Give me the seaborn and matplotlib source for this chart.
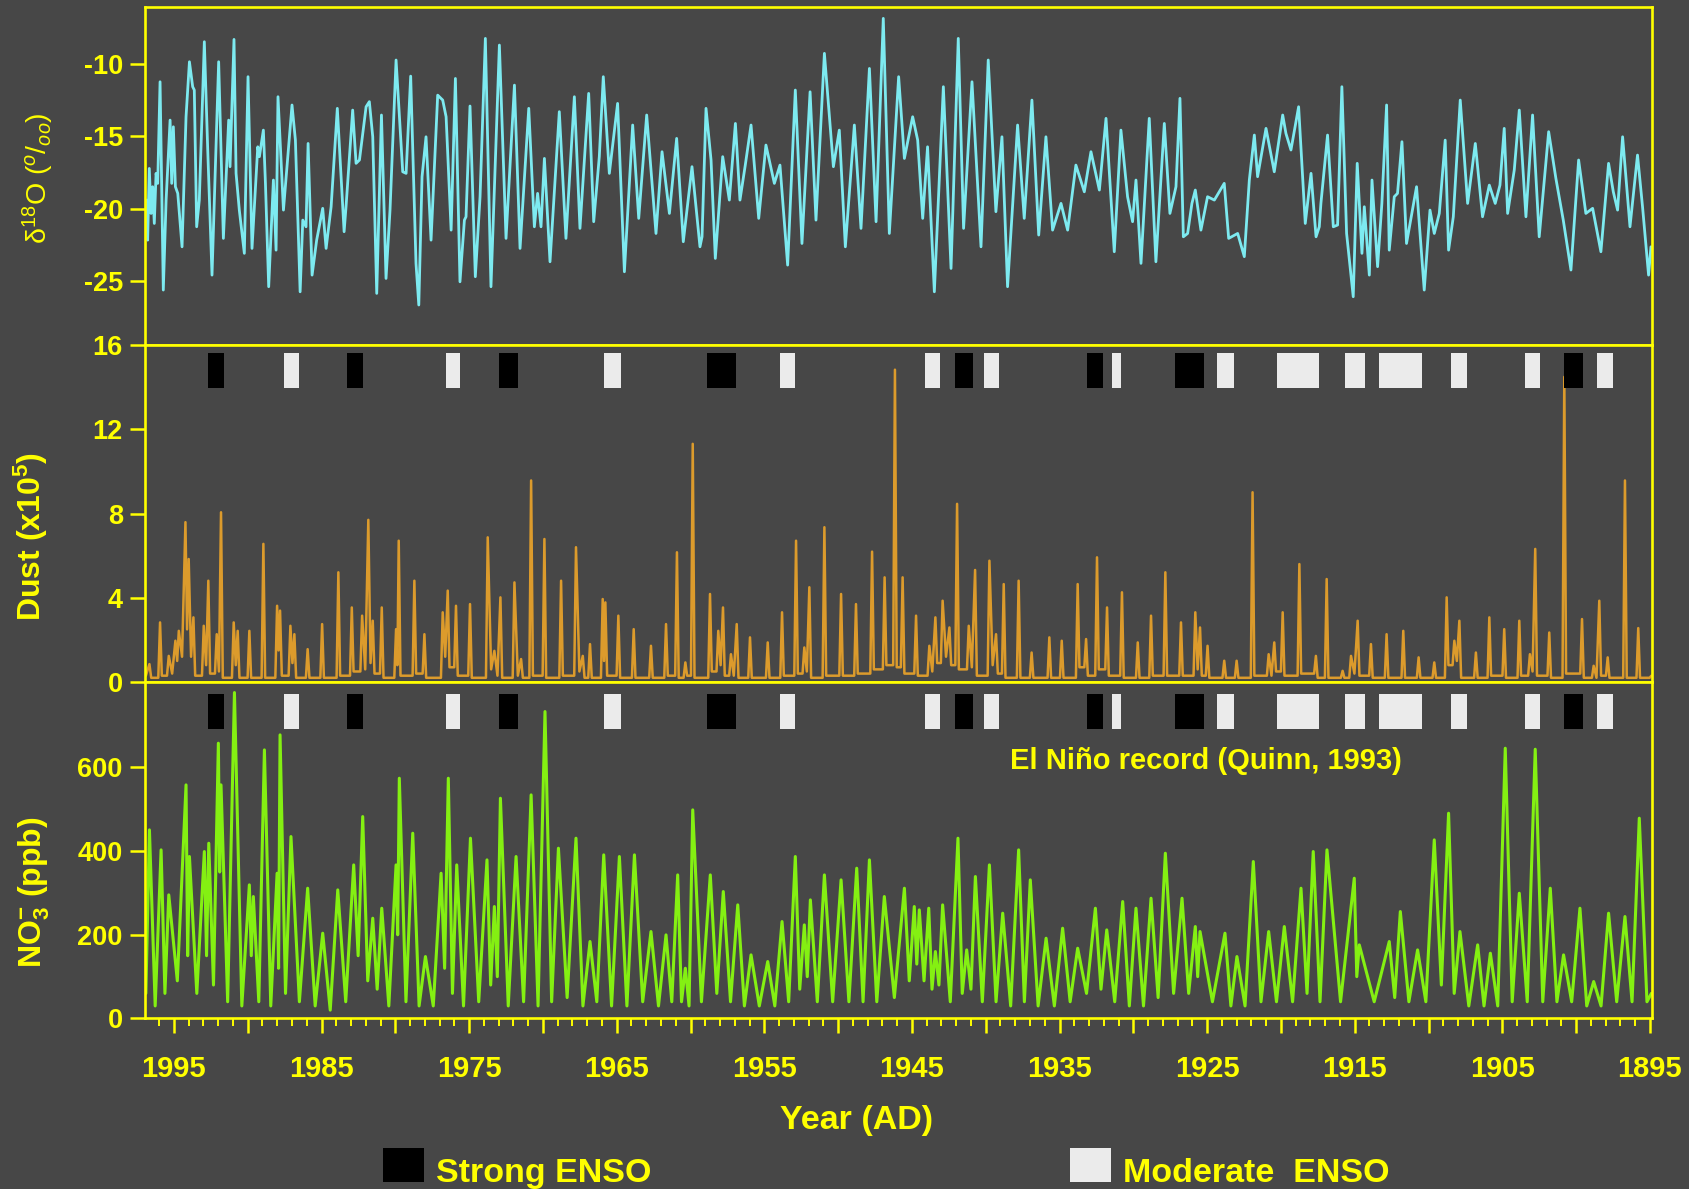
import matplotlib
matplotlib.use("Agg")
import numpy as np
import pandas as pd
import matplotlib.pyplot as plt
import seaborn as sns
from matplotlib.patches import Rectangle

# ---------------------------------------------------------------- data
# delta-18O record (year AD, per mil)
d18o_points = [
    (1996.85, -19.4), (1996.78, -22.16), (1996.67, -17.22), (1996.55, -20.32), (1996.44, -18.48),
    (1996.33, -21.01), (1996.21, -17.56), (1996.10, -18.25), (1995.94, -11.25), (1995.72, -25.60),
    (1995.53, -19.40), (1995.26, -13.89), (1995.15, -18.25), (1995.04, -14.35), (1994.90, -18.48),
    (1994.74, -18.94), (1994.45, -22.62), (1994.18, -13.66), (1993.95, -9.87), (1993.73, -11.59),
    (1993.62, -11.82), (1993.46, -21.24), (1993.28, -19.40), (1992.94, -8.49), (1992.71, -15.95),
    (1992.42, -24.57), (1991.97, -9.87), (1991.65, -22.04), (1991.29, -13.89), (1991.20, -17.10),
    (1990.93, -8.33), (1990.79, -17.56), (1990.57, -20.09), (1990.23, -23.07), (1989.98, -10.90),
    (1989.71, -22.73), (1989.32, -15.73), (1989.21, -16.41), (1988.94, -14.58), (1988.80, -18.25),
    (1988.58, -25.37), (1988.26, -18.02), (1988.08, -22.85), (1987.95, -12.28), (1987.58, -20.09),
    (1987.00, -12.85), (1986.77, -15.27), (1986.45, -25.72), (1986.27, -20.78), (1986.05, -21.24),
    (1985.91, -15.50), (1985.64, -24.57), (1985.33, -22.16), (1984.92, -19.97), (1984.69, -22.73),
    (1984.35, -19.86), (1983.93, -13.08), (1983.47, -21.58), (1983.34, -19.86), (1982.89, -13.20),
    (1982.66, -16.87), (1982.43, -16.64), (1981.98, -12.97), (1981.76, -12.62), (1981.53, -15.04),
    (1981.26, -25.83), (1980.94, -13.54), (1980.63, -24.80), (1980.36, -20.09), (1979.95, -9.75),
    (1979.50, -17.45), (1979.27, -17.56), (1978.96, -10.86), (1978.60, -23.76), (1978.41, -26.63),
    (1978.19, -17.79), (1977.92, -15.04), (1977.58, -22.16), (1977.13, -12.17), (1976.79, -12.51),
    (1976.56, -13.66), (1976.22, -21.47), (1975.93, -11.02), (1975.62, -25.03), (1975.32, -20.78),
    (1975.21, -20.55), (1974.94, -12.92), (1974.58, -24.68), (1974.26, -19.17), (1973.90, -8.26),
    (1973.52, -25.37), (1972.95, -8.72), (1972.50, -22.04), (1971.93, -11.48), (1971.55, -22.73),
    (1970.96, -13.08), (1970.58, -21.24), (1970.36, -18.94), (1970.13, -21.24), (1969.90, -16.53),
    (1969.52, -23.65), (1968.89, -13.31), (1968.44, -22.04), (1967.87, -12.28), (1967.49, -21.35),
    (1966.90, -12.05), (1966.56, -20.89), (1966.18, -16.41), (1965.91, -10.90), (1965.50, -17.56),
    (1964.94, -12.74), (1964.48, -24.34), (1963.92, -14.23), (1963.51, -20.66), (1962.97, -13.54),
    (1962.34, -21.70), (1961.93, -16.07), (1961.43, -20.32), (1960.94, -15.15), (1960.49, -22.27),
    (1959.90, -17.10), (1959.36, -22.62), (1959.22, -21.93), (1958.95, -13.08), (1958.61, -16.64),
    (1958.32, -23.42), (1957.82, -16.41), (1957.37, -19.40), (1956.96, -14.12), (1956.65, -19.40),
    (1956.29, -16.99), (1955.90, -14.23), (1955.38, -20.66), (1954.89, -15.61), (1954.32, -18.25),
    (1953.94, -16.99), (1953.42, -23.88), (1952.90, -11.82), (1952.45, -22.39), (1951.90, -11.94),
    (1951.50, -20.78), (1950.93, -9.29), (1950.32, -17.10), (1949.92, -14.58), (1949.51, -22.62),
    (1948.90, -14.23), (1948.45, -21.35), (1947.88, -10.33), (1947.43, -20.89), (1946.94, -6.88),
    (1946.53, -21.70), (1945.90, -10.90), (1945.51, -16.53), (1944.95, -13.66), (1944.61, -15.27),
    (1944.27, -20.66), (1943.94, -15.73), (1943.48, -25.72), (1942.87, -11.59), (1942.35, -24.11),
    (1941.86, -8.26), (1941.50, -21.35), (1940.93, -11.25), (1940.32, -22.62), (1939.83, -9.75),
    (1939.31, -20.20), (1938.90, -15.04), (1938.52, -25.37), (1937.84, -14.23), (1937.39, -20.66),
    (1936.87, -12.51), (1936.41, -21.81), (1935.92, -15.04), (1935.47, -21.47), (1934.90, -19.63),
    (1934.45, -21.47), (1933.89, -16.99), (1933.32, -18.83), (1932.87, -16.07), (1932.30, -18.71),
    (1931.85, -13.77), (1931.29, -22.96), (1930.84, -14.58), (1930.39, -19.17), (1930.05, -20.89),
    (1929.82, -18.02), (1929.48, -23.76), (1928.92, -13.77), (1928.47, -23.65), (1927.90, -14.12),
    (1927.52, -20.32), (1927.11, -18.48), (1926.84, -12.39), (1926.61, -21.93), (1926.32, -21.70),
    (1926.03, -19.63), (1925.80, -18.71), (1925.42, -21.47), (1924.97, -19.17), (1924.51, -19.40),
    (1923.84, -18.25), (1923.54, -22.04), (1922.93, -21.70), (1922.48, -23.30), (1922.14, -18.02),
    (1921.80, -14.92), (1921.58, -17.79), (1921.01, -14.46), (1920.45, -17.45), (1919.88, -13.54),
    (1919.66, -14.81), (1919.32, -15.95), (1918.80, -12.97), (1918.35, -21.01), (1917.96, -17.56),
    (1917.62, -21.93), (1917.40, -21.24), (1917.29, -19.63), (1916.84, -14.92), (1916.45, -21.24),
    (1916.16, -21.12), (1915.87, -11.59), (1915.55, -21.70), (1915.10, -26.06), (1914.83, -16.87),
    (1914.51, -23.07), (1914.35, -19.86), (1914.01, -24.57), (1913.83, -18.02), (1913.45, -23.99),
    (1913.16, -19.63), (1912.84, -12.85), (1912.66, -22.85), (1912.32, -19.17), (1912.10, -18.94),
    (1911.80, -15.38), (1911.49, -22.39), (1910.81, -18.48), (1910.29, -25.60), (1909.90, -20.09),
    (1909.61, -21.70), (1909.27, -20.32), (1908.87, -15.27), (1908.64, -22.85), (1908.32, -20.55),
    (1907.85, -12.51), (1907.35, -19.63), (1906.83, -15.50), (1906.34, -20.55), (1905.88, -18.37),
    (1905.48, -19.63), (1905.16, -18.37), (1904.87, -14.46), (1904.64, -20.32), (1904.19, -17.33),
    (1903.85, -13.20), (1903.40, -20.55), (1902.95, -13.54), (1902.50, -21.93), (1901.86, -14.69),
    (1901.37, -17.91), (1900.87, -20.78), (1900.35, -24.22), (1899.83, -16.64), (1899.34, -20.32),
    (1898.88, -19.97), (1898.32, -22.96), (1897.80, -16.87), (1897.48, -18.83), (1897.19, -20.09),
    (1896.85, -15.04), (1896.35, -21.24), (1895.84, -16.30), (1895.50, -19.86), (1895.09, -24.57),
    (1894.93, -22.62),
]

# dust concentration (x10^5): peaks alternating with the floor level between them
dust_points = [
    (1996.90, 0.3), (1996.66, 0.85), (1996.30, 0.2), (1995.94, 2.83), (1995.65, 0.3), (1995.35, 1.24),
    (1995.12, 0.4), (1994.90, 1.96), (1994.78, 1.0), (1994.67, 2.43), (1994.45, 1.2), (1994.22, 7.59),
    (1994.11, 2.5), (1994.00, 5.84), (1993.84, 1.2), (1993.68, 3.07), (1993.33, 0.3), (1992.98, 2.67),
    (1992.82, 0.8), (1992.67, 4.81), (1992.38, 0.4), (1992.10, 2.27), (1991.95, 0.5), (1991.81, 8.06),
    (1991.38, 0.2), (1990.95, 2.83), (1990.81, 0.8), (1990.68, 2.43), (1990.28, 0.2), (1989.89, 2.43),
    (1989.41, 0.2), (1988.94, 6.56), (1988.47, 0.2), (1988.01, 3.62), (1987.91, 1.5), (1987.81, 3.39),
    (1987.46, 0.3), (1987.11, 2.67), (1986.97, 0.9), (1986.84, 2.27), (1986.39, 0.2), (1985.94, 1.56),
    (1985.45, 0.2), (1984.96, 2.75), (1984.41, 0.2), (1983.86, 5.21), (1983.40, 0.3), (1982.95, 3.54),
    (1982.60, 0.5), (1982.25, 3.15), (1982.04, 0.6), (1981.83, 7.70), (1981.68, 0.9), (1981.53, 2.91),
    (1981.22, 0.4), (1980.92, 3.54), (1980.43, 0.2), (1979.95, 2.51), (1979.86, 0.8), (1979.77, 6.71),
    (1979.24, 0.3), (1978.71, 4.81), (1978.37, 0.4), (1978.03, 2.27), (1977.41, 0.2), (1976.79, 3.31),
    (1976.62, 1.2), (1976.45, 4.34), (1976.17, 0.7), (1975.89, 3.62), (1975.41, 0.3), (1974.94, 3.70),
    (1974.34, 0.2), (1973.74, 6.87), (1973.51, 0.6), (1973.29, 1.48), (1973.08, 0.3), (1972.88, 4.02),
    (1972.40, 0.2), (1971.93, 4.73), (1971.70, 0.3), (1971.48, 1.09), (1971.14, 0.2), (1970.80, 9.57),
    (1970.35, 0.3), (1969.90, 6.79), (1969.33, 0.2), (1968.77, 4.81), (1968.26, 0.3), (1967.76, 6.40),
    (1967.53, 0.5), (1967.30, 1.24), (1967.05, 0.2), (1966.81, 1.80), (1966.38, 0.2), (1965.95, 3.94),
    (1965.86, 1.0), (1965.77, 3.78), (1965.33, 0.3), (1964.89, 3.15), (1964.37, 0.2), (1963.85, 2.51),
    (1963.26, 0.2), (1962.68, 1.72), (1962.17, 0.2), (1961.66, 2.75), (1961.29, 0.3), (1960.92, 6.16),
    (1960.64, 0.2), (1960.35, 0.93), (1960.10, 0.3), (1959.85, 11.31), (1959.27, 0.2), (1958.68, 4.18),
    (1958.40, 0.5), (1958.12, 2.43), (1957.96, 0.8), (1957.80, 3.54), (1957.53, 0.3), (1957.26, 1.32),
    (1957.07, 0.3), (1956.87, 2.75), (1956.42, 0.2), (1955.97, 2.12), (1955.37, 0.2), (1954.77, 1.88),
    (1954.29, 0.2), (1953.80, 3.31), (1953.33, 0.3), (1952.85, 6.71), (1952.57, 0.4), (1952.29, 1.64),
    (1952.12, 0.5), (1951.95, 4.50), (1951.44, 0.2), (1950.93, 7.35), (1950.37, 0.3), (1949.80, 4.18),
    (1949.30, 0.3), (1948.79, 3.70), (1948.25, 0.4), (1947.70, 6.19), (1947.28, 0.6), (1946.85, 4.97),
    (1946.50, 0.8), (1946.15, 14.83), (1945.89, 0.7), (1945.63, 4.97), (1945.18, 0.4), (1944.72, 3.15),
    (1944.27, 0.3), (1943.82, 1.72), (1943.62, 0.5), (1943.41, 3.07), (1943.17, 0.9), (1942.92, 3.86),
    (1942.69, 1.2), (1942.46, 2.59), (1942.20, 0.8), (1941.94, 8.46), (1941.55, 0.6), (1941.15, 2.67),
    (1940.94, 0.7), (1940.72, 5.32), (1940.24, 0.3), (1939.75, 5.76), (1939.53, 0.8), (1939.30, 2.27),
    (1939.04, 0.4), (1938.78, 4.65), (1938.28, 0.2), (1937.77, 4.81), (1937.33, 0.2), (1936.89, 1.40),
    (1936.29, 0.2), (1935.69, 2.12), (1935.27, 0.2), (1934.85, 1.96), (1934.31, 0.2), (1933.77, 4.65),
    (1933.49, 0.7), (1933.20, 2.04), (1932.83, 0.3), (1932.46, 5.92), (1932.12, 0.6), (1931.78, 3.54),
    (1931.28, 0.3), (1930.77, 4.26), (1930.24, 0.2), (1929.70, 1.88), (1929.25, 0.2), (1928.80, 3.15),
    (1928.32, 0.3), (1927.83, 5.21), (1927.30, 0.3), (1926.77, 2.83), (1926.28, 0.3), (1925.80, 3.31),
    (1925.64, 0.6), (1925.48, 2.59), (1925.22, 0.3), (1924.97, 1.72), (1924.40, 0.2), (1923.84, 1.01),
    (1923.42, 0.2), (1923.00, 1.01), (1922.46, 0.2), (1921.92, 9.01), (1921.37, 0.3), (1920.83, 1.32),
    (1920.64, 0.3), (1920.45, 1.88), (1920.16, 0.5), (1919.88, 3.31), (1919.31, 0.3), (1918.75, 5.60),
    (1918.19, 0.4), (1917.63, 1.24), (1917.26, 0.2), (1916.90, 4.89), (1916.36, 0.2), (1915.82, 0.53),
    (1915.53, 0.2), (1915.25, 1.24), (1915.02, 0.4), (1914.80, 2.91), (1914.35, 0.3), (1913.90, 1.80),
    (1913.37, 0.2), (1912.84, 2.27), (1912.27, 0.2), (1911.71, 2.43), (1911.19, 0.2), (1910.67, 1.17),
    (1910.14, 0.2), (1909.61, 0.93), (1909.19, 0.2), (1908.77, 4.02), (1908.51, 0.8), (1908.25, 1.96),
    (1908.08, 1.0), (1907.91, 2.91), (1907.35, 0.2), (1906.79, 1.40), (1906.33, 0.2), (1905.88, 3.07),
    (1905.37, 0.3), (1904.87, 2.51), (1904.36, 0.2), (1903.85, 2.91), (1903.49, 0.3), (1903.13, 1.32),
    (1902.95, 0.5), (1902.77, 6.32), (1902.29, 0.3), (1901.82, 2.35), (1901.31, 0.2), (1900.80, 14.49),
    (1900.20, 0.4), (1899.60, 2.99), (1899.20, 0.2), (1898.81, 0.77), (1898.62, 0.2), (1898.43, 3.86),
    (1898.14, 0.3), (1897.86, 1.17), (1897.27, 0.2), (1896.69, 9.57), (1896.24, 0.2), (1895.79, 2.56),
    (1895.20, 0.2), (1894.90, 0.3),
]

# nitrate (ppb): peaks alternating with the lows between them
no3_points = [
    (1996.90, 60), (1996.66, 450.7), (1996.27, 30), (1995.87, 402.9), (1995.61, 60), (1995.35, 295.4),
    (1994.77, 90), (1994.18, 558.2), (1994.07, 150), (1993.95, 387.0), (1993.45, 60), (1992.94, 398.9),
    (1992.79, 150), (1992.64, 418.8), (1992.32, 80), (1991.99, 657.8), (1991.90, 350), (1991.81, 558.2),
    (1991.36, 40), (1990.90, 778.8), (1990.40, 30), (1989.89, 319.3), (1989.76, 150), (1989.62, 291.4),
    (1989.25, 40), (1988.87, 641.8), (1988.44, 30), (1988.01, 347.1), (1987.91, 120), (1987.81, 677.7),
    (1987.44, 60), (1987.07, 434.7), (1986.50, 40), (1985.94, 311.3), (1985.43, 30), (1984.92, 203.8),
    (1984.41, 20), (1983.90, 307.3), (1983.36, 40), (1982.82, 367.0), (1982.52, 150), (1982.21, 482.5),
    (1981.87, 90), (1981.53, 239.6), (1981.23, 70), (1980.92, 263.5), (1980.44, 30), (1979.95, 367.0),
    (1979.84, 200), (1979.73, 574.1), (1979.28, 40), (1978.82, 442.7), (1978.39, 30), (1977.96, 148.0),
    (1977.43, 30), (1976.90, 347.1), (1976.66, 120), (1976.41, 574.1), (1976.13, 60), (1975.84, 367.0),
    (1975.38, 30), (1974.91, 430.8), (1974.35, 40), (1973.79, 379.0), (1973.54, 80), (1973.29, 267.5),
    (1973.09, 100), (1972.88, 526.3), (1972.35, 30), (1971.82, 387.0), (1971.31, 40), (1970.80, 534.3),
    (1970.33, 30), (1969.86, 733.4), (1969.41, 40), (1968.95, 406.9), (1968.36, 50), (1967.76, 430.8),
    (1967.29, 30), (1966.81, 183.9), (1966.35, 40), (1965.88, 391.0), (1965.35, 30), (1964.82, 387.0),
    (1964.31, 30), (1963.80, 391.0), (1963.24, 40), (1962.68, 207.7), (1962.17, 30), (1961.66, 199.8),
    (1961.27, 40), (1960.87, 343.1), (1960.61, 40), (1960.35, 120.1), (1960.10, 30), (1959.85, 498.5),
    (1959.26, 40), (1958.66, 343.1), (1958.22, 60), (1957.78, 303.3), (1957.29, 40), (1956.80, 271.5),
    (1956.35, 30), (1955.90, 152.0), (1955.34, 30), (1954.77, 136.1), (1954.29, 30), (1953.80, 231.6),
    (1953.35, 40), (1952.90, 387.0), (1952.60, 70), (1952.29, 223.7), (1952.09, 100), (1951.88, 283.4),
    (1951.41, 40), (1950.93, 343.1), (1950.37, 40), (1949.80, 331.2), (1949.27, 40), (1948.74, 359.1),
    (1948.31, 40), (1947.88, 379.0), (1947.38, 40), (1946.87, 291.4), (1946.19, 50), (1945.51, 311.3),
    (1945.18, 90), (1944.84, 267.5), (1944.67, 130), (1944.50, 259.5), (1944.18, 90), (1943.86, 263.5),
    (1943.64, 70), (1943.41, 160.0), (1943.17, 80), (1942.92, 271.5), (1942.40, 40), (1941.88, 430.8),
    (1941.59, 60), (1941.29, 163.9), (1941.00, 70), (1940.70, 339.2), (1940.23, 40), (1939.75, 367.0),
    (1939.30, 40), (1938.85, 251.6), (1938.31, 30), (1937.77, 402.9), (1937.38, 40), (1936.98, 331.2),
    (1936.45, 30), (1935.91, 191.8), (1935.35, 30), (1934.79, 215.7), (1934.28, 40), (1933.77, 167.9),
    (1933.17, 60), (1932.57, 263.5), (1932.19, 70), (1931.80, 211.7), (1931.26, 40), (1930.72, 279.4),
    (1930.27, 30), (1929.82, 263.5), (1929.31, 30), (1928.80, 287.4), (1928.32, 50), (1927.83, 394.9),
    (1927.27, 60), (1926.70, 287.4), (1926.25, 60), (1925.80, 219.7), (1925.64, 100), (1925.48, 207.7),
    (1924.64, 40), (1923.79, 203.8), (1923.39, 30), (1922.98, 148.0), (1922.43, 30), (1921.87, 375.0),
    (1921.35, 40), (1920.83, 207.7), (1920.30, 40), (1919.77, 219.7), (1919.21, 40), (1918.64, 311.3),
    (1918.23, 60), (1917.81, 398.9), (1917.35, 40), (1916.88, 402.9), (1915.96, 40), (1915.03, 335.2),
    (1914.86, 100), (1914.69, 175.9), (1913.68, 40), (1912.66, 183.9), (1912.29, 50), (1911.91, 255.5),
    (1911.33, 40), (1910.74, 163.9), (1910.18, 40), (1909.61, 426.8), (1909.13, 80), (1908.64, 490.5),
    (1908.26, 60), (1907.87, 207.7), (1907.27, 30), (1906.67, 175.9), (1906.24, 30), (1905.81, 156.0),
    (1905.31, 30), (1904.80, 645.8), (1904.33, 40), (1903.85, 299.3), (1903.31, 40), (1902.77, 643.4),
    (1902.26, 40), (1901.75, 311.3), (1901.30, 40), (1900.85, 152.0), (1900.30, 40), (1899.74, 263.5),
    (1899.28, 30), (1898.81, 88.3), (1898.31, 30), (1897.80, 251.6), (1897.25, 40), (1896.69, 243.6),
    (1896.21, 40), (1895.72, 478.6), (1895.20, 40), (1894.90, 60),
]

# El Nino events after Quinn (1993): (start year, end year)
strong_enso = [(1992.67, 1991.63), (1983.30, 1982.20), (1973.00, 1971.70), (1958.88, 1956.92),
               (1942.06, 1940.89), (1933.14, 1932.08), (1927.17, 1925.24), (1900.80, 1899.50)]
moderate_enso = [(1987.52, 1986.50), (1976.60, 1975.60), (1965.84, 1964.71), (1953.96, 1952.92),
                 (1944.10, 1943.07), (1940.10, 1939.08), (1931.47, 1930.83), (1924.33, 1923.20),
                 (1920.27, 1917.40), (1915.66, 1914.28), (1913.38, 1910.47), (1908.50, 1907.39),
                 (1903.46, 1902.43), (1898.58, 1897.53)]

year_labels = [1995, 1985, 1975, 1965, 1955, 1945, 1935, 1925, 1915, 1905, 1895]
d18o_ticks = [-25, -20, -15, -10]
dust_ticks = [0, 4, 8, 12, 16]
no3_ticks = [0, 200, 400, 600]

# ---------------------------------------------------------------- style
BG = "#474747"
YEL = "#ffff00"
CYAN = "#7deaf0"
ORANGE = "#dc9b2c"
LIME = "#84f012"
SPIKE_FOOT = 0.12   # half-width (years) of the foot of a dust spike
ROUND = dict(solid_joinstyle="round", solid_capstyle="round")

sns.set_style("dark", {"axes.facecolor": BG, "figure.facecolor": BG})
plt.rcParams["font.family"] = ["Liberation Sans", "DejaVu Sans"]
plt.rcParams["mathtext.fontset"] = "custom"
plt.rcParams["mathtext.rm"] = "Liberation Sans"
plt.rcParams["mathtext.bf"] = "Liberation Sans:bold"
plt.rcParams["mathtext.it"] = "Liberation Sans:italic"

fig = plt.figure(figsize=(16.9, 11.89), dpi=100, facecolor=BG)
L, W = 0.0858, 0.8917
ax_o = fig.add_axes([L, 0.7098, W, 0.2839])
ax_d = fig.add_axes([L, 0.4264, W, 0.2834])
ax_n = fig.add_axes([L, 0.1434, W, 0.2830])


def frame(ax):
    ax.set_facecolor(BG)
    ax.grid(False)
    for sp in ax.spines.values():
        sp.set_visible(True)
        sp.set_color(YEL)
        sp.set_linewidth(1.9)
    ax.set_xlim(1996.96, 1894.86)
    ax.tick_params(axis="y", direction="out", length=11, width=1.8, color=YEL,
                   labelcolor=YEL, labelsize=19.5, pad=5, left=True)
    for t in ax.get_yticklabels():
        t.set_fontweight("bold")
    ax.set_xlabel("")
    ax.set_ylabel("")


def spike_trace(points, foot):
    """Floor points between two well separated peaks become a flat floor
    segment that runs from the foot of one spike to the foot of the next."""
    out = []
    n = len(points)
    for i, (x, v) in enumerate(points):
        if 0 < i < n - 1:
            xp, vp = points[i - 1]
            xn, vn = points[i + 1]
            if v <= vp and v <= vn and (xp - xn) > 4 * foot:
                out.append((xp - foot, v))
                out.append((xn + foot, v))
                continue
        out.append((x, v))
    return pd.DataFrame(out, columns=["year", "value"])


# delta-18O
o = pd.DataFrame(d18o_points, columns=["year", "value"])
sns.lineplot(data=o, x="year", y="value", ax=ax_o, color=CYAN, linewidth=2.0,
             sort=False, estimator=None, **ROUND)
ax_o.set_ylim(-29.39, -6.13)
ax_o.set_yticks(d18o_ticks)
ax_o.set_yticklabels([str(v) for v in d18o_ticks])
ax_o.set_xticks([])
frame(ax_o)

# dust
d = spike_trace(dust_points, SPIKE_FOOT)
sns.lineplot(data=d, x="year", y="value", ax=ax_d, color=ORANGE, linewidth=1.8,
             sort=False, estimator=None, **ROUND)
ax_d.set_ylim(0, 16)
ax_d.set_yticks(dust_ticks)
ax_d.set_yticklabels([str(v) for v in dust_ticks])
ax_d.set_xticks([])
frame(ax_d)

# nitrate
n = pd.DataFrame(no3_points, columns=["year", "value"])
sns.lineplot(data=n, x="year", y="value", ax=ax_n, color=LIME, linewidth=2.2,
             sort=False, estimator=None, **ROUND)
ax_n.set_ylim(0, 804)
ax_n.set_yticks(no3_ticks)
ax_n.set_yticklabels([str(v) for v in no3_ticks])
frame(ax_n)
ax_n.set_xticks(np.arange(1895, 1997, 5))
ax_n.set_xticks(np.arange(1895, 1997, 1), minor=True)
ax_n.set_xticklabels([str(y) if y in year_labels else "" for y in range(1895, 1997, 5)],
                     fontweight="bold", fontsize=21, color=YEL)
ax_n.tick_params(axis="x", which="major", direction="out", length=11, width=1.8,
                 color=YEL, pad=15, bottom=True)
ax_n.tick_params(axis="x", which="minor", direction="out", length=6, width=1.4,
                 color=YEL, bottom=True)

# ENSO event bars in dust and nitrate panels
for ax, lo, hi in [(ax_d, 13.96, 15.63), (ax_n, 691.0, 776.0)]:
    for events, col in [(strong_enso, "#000000"), (moderate_enso, "#ebebeb")]:
        centers = [(a + b) / 2 for a, b in events]
        widths = [a - b for a, b in events]
        ax.bar(centers, hi - lo, width=widths, bottom=lo, color=col, linewidth=0, zorder=3)

ax_n.text(1938.33, 615, "El Niño record (Quinn, 1993)", color=YEL, fontsize=21,
          fontweight="bold", ha="left", va="center")

# axis titles
fig.text(38 / 1690, 1 - 178 / 1189, r"$\mathrm{\delta}^{18}$O ($^{o}$/$_{oo}$)",
         rotation=90, ha="center", va="center", color=YEL, fontsize=20.5)
fig.text(31 / 1690, 1 - 537 / 1189, r"Dust (x10$^{\mathbf{5}}$)", rotation=90,
         ha="center", va="center", color=YEL, fontsize=23, fontweight="bold")
fig.text(34 / 1690, 1 - 892 / 1189, r"NO$_{\mathbf{3}}^{\mathbf{-}}$ (ppb)", rotation=90,
         ha="center", va="center", color=YEL, fontsize=23, fontweight="bold")
fig.text(857 / 1690, 1 - 1120 / 1189, "Year (AD)", ha="center", va="center",
         color=YEL, fontsize=24.5, fontweight="bold")

# legend
fig.patches.append(Rectangle((383 / 1690, 1 - 1182 / 1189), 41 / 1690, 34 / 1189,
                             transform=fig.transFigure, facecolor="#000000",
                             edgecolor="none"))
fig.patches.append(Rectangle((1070 / 1690, 1 - 1182 / 1189), 41 / 1690, 34 / 1189,
                             transform=fig.transFigure, facecolor="#ebebeb",
                             edgecolor="none"))
fig.text(436 / 1690, 1 - 1182 / 1189, "Strong ENSO", ha="left", va="baseline",
         color=YEL, fontsize=24.5, fontweight="bold")
fig.text(1123 / 1690, 1 - 1182 / 1189, "Moderate  ENSO", ha="left", va="baseline",
         color=YEL, fontsize=24.5, fontweight="bold")

fig.savefig("out.png", dpi=100, facecolor=BG)
